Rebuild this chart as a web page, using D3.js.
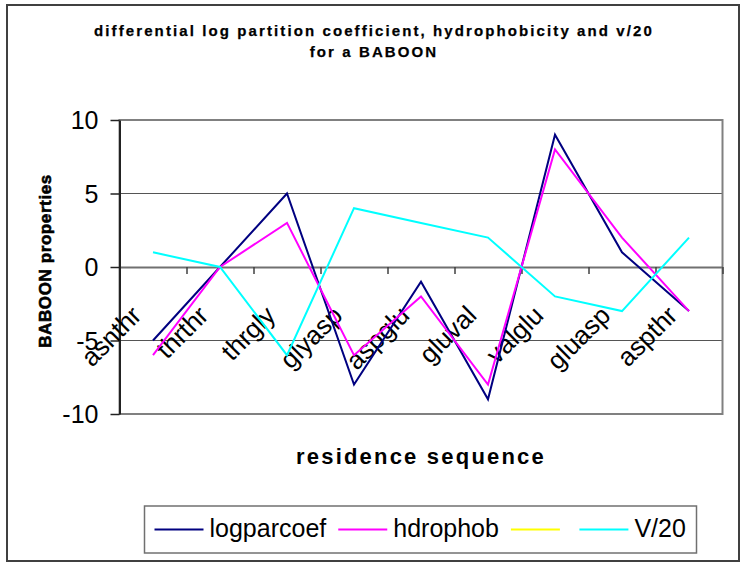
<!DOCTYPE html>
<html>
<head>
<meta charset="utf-8">
<script src="https://cdn.jsdelivr.net/npm/d3@7"></script>
<style>
  body { margin: 0; background: #fff; }
  svg { font-family: "Liberation Sans", Arial, sans-serif; }
</style>
</head>
<body>
<svg id="canvas"></svg>
<script>
// residue pairs along the sequence
let categories = ['asnthr', 'thrthr', 'thrgly', 'glyasp', 'aspglu', 'gluval', 'valglu', 'gluasp', 'aspthr']

let logparcoef = [-5, 0, 5, -8, -1, -9, 9, 1, -3]
let hdrophob = [-6, 0, 3, -6, -2, -8, 8, 2, -3]
let blankSeries = []   // yellow series, no values plotted
let v20 = [1, 0, -6, 4, 3, 2, -2, -3, 2]

let yTicks = [-10, -5, 0, 5, 10]

let seriesNames = ['logparcoef', 'hdrophob', '', 'V/20']
let seriesColors = ['#000080', '#FF00FF', '#FFFF00', '#00FFFF']
let seriesValues = [logparcoef, hdrophob, blankSeries, v20]

const width = 743, height = 563
const plot = { left: 119.5, right: 722.5, top: 120, bottom: 414 }

let svg = d3.select('#canvas')
    .attr('width', width)
    .attr('height', height)

// outer chart frame
svg.append('rect')
    .attr('x', 7).attr('y', 5)
    .attr('width', 732).attr('height', 556)
    .attr('fill', '#fff')
    .attr('stroke', '#404040')
    .attr('stroke-width', 2)

let x = d3.scaleBand()
    .domain(categories)
    .range([plot.left, plot.right])
    .padding(0)

let xEdge = d3.scaleLinear()
    .domain([0, categories.length])
    .range([plot.left, plot.right])

let y = d3.scaleLinear()
    .domain([-10, 10])
    .range([plot.bottom, plot.top])

// gridlines
svg.append('g')
    .selectAll('line')
    .data(yTicks.filter(d => d !== 0 && Math.abs(d) !== 10))
    .enter().append('line')
    .attr('x1', plot.left).attr('x2', plot.right)
    .attr('y1', d => y(d)).attr('y2', d => y(d))
    .attr('stroke', '#555')
    .attr('stroke-width', 1.2)

// plot area border
svg.append('rect')
    .attr('x', plot.left).attr('y', plot.top)
    .attr('width', plot.right - plot.left)
    .attr('height', plot.bottom - plot.top)
    .attr('fill', 'none')
    .attr('stroke', '#808080')
    .attr('stroke-width', 2)

// category axis crossing at zero
let xAxis = svg.append('g')
    .attr('transform', 'translate(0,' + y(0) + ')')
    .call(d3.axisBottom(xEdge)
        .tickValues(d3.range(categories.length + 1))
        .tickFormat('')
        .tickSize(7)
        .tickSizeOuter(0))
xAxis.select('.domain').attr('stroke', '#707070').attr('stroke-width', 2)
xAxis.selectAll('.tick line').attr('stroke', '#404040').attr('stroke-width', 1.5)

// value axis
let yAxis = svg.append('g')
    .attr('transform', 'translate(' + plot.left + ',0)')
    .call(d3.axisLeft(y)
        .tickValues(yTicks)
        .tickFormat(d => String(d))
        .tickSize(9)
        .tickSizeOuter(0)
        .tickPadding(12))
yAxis.select('.domain').attr('stroke', '#222').attr('stroke-width', 2)
yAxis.selectAll('.tick line').attr('stroke', '#222').attr('stroke-width', 1.5)
yAxis.selectAll('.tick text')
    .attr('font-size', 25)
    .attr('font-family', '"Liberation Sans", Arial, sans-serif')
    .attr('fill', '#000')
    .attr('dy', '0.34em')

// rotated category labels
svg.append('g')
    .selectAll('text')
    .data(categories)
    .enter().append('text')
    .attr('transform', d => 'translate(' + (x(d) + x.bandwidth() / 2 - 10) + ',317) rotate(-45)')
    .attr('text-anchor', 'end')
    .attr('font-size', 26)
    .attr('fill', '#000')
    .text(d => d)

// series lines
let line = d3.line()
    .x((d, i) => x(categories[i]) + x.bandwidth() / 2)
    .y(d => y(d))

svg.append('g')
    .selectAll('path')
    .data(seriesValues)
    .enter().append('path')
    .attr('d', d => d.length ? line(d) : null)
    .attr('fill', 'none')
    .attr('stroke', (d, i) => seriesColors[i])
    .attr('stroke-width', 2)
    .attr('stroke-linejoin', 'miter')

// titles
let title = svg.append('text')
    .attr('text-anchor', 'middle')
    .attr('font-size', 15)
    .attr('font-weight', 'bold')
    .attr('letter-spacing', 2.1)
    .attr('fill', '#000')
    .attr('stroke', '#000')
    .attr('stroke-width', 0.25)
title.append('tspan').attr('x', 374).attr('y', 36)
    .text('differential log partition coefficient, hydrophobicity and v/20')
title.append('tspan').attr('x', 374).attr('y', 57)
    .text('for a BABOON')

svg.append('text')
    .attr('x', (plot.left + plot.right) / 2)
    .attr('y', 464)
    .attr('text-anchor', 'middle')
    .attr('font-size', 22)
    .attr('font-weight', 'bold')
    .attr('letter-spacing', 2.2)
    .text('residence sequence')

svg.append('text')
    .attr('transform', 'translate(51,261) rotate(-90)')
    .attr('text-anchor', 'middle')
    .attr('font-size', 17)
    .attr('font-weight', 'bold')
    .attr('letter-spacing', 0.6)
    .attr('stroke', '#000')
    .attr('stroke-width', 0.6)
    .text('BABOON properties')

// legend
const legendBox = { x: 144.5, y: 506, w: 552, h: 47 }
svg.append('rect')
    .attr('x', legendBox.x).attr('y', legendBox.y)
    .attr('width', legendBox.w).attr('height', legendBox.h)
    .attr('fill', '#fff')
    .attr('stroke', '#707070')
    .attr('stroke-width', 1.5)

let legend = svg.append('g')
let cursor = 154.5
const ly = legendBox.y + legendBox.h / 2
seriesNames.forEach(function(name, i) {
    legend.append('line')
        .attr('x1', cursor).attr('x2', cursor + 49)
        .attr('y1', ly).attr('y2', ly)
        .attr('stroke', seriesColors[i])
        .attr('stroke-width', 2)
    let t = legend.append('text')
        .attr('x', cursor + 55)
        .attr('y', ly + 7)
        .attr('font-size', 25)
        .attr('fill', '#000')
        .text(name)
    let tw = name ? t.node().getComputedTextLength() : 0
    cursor = cursor + 55 + tw + (name ? 12 : 13.5)
})
</script>
</body>
</html>
